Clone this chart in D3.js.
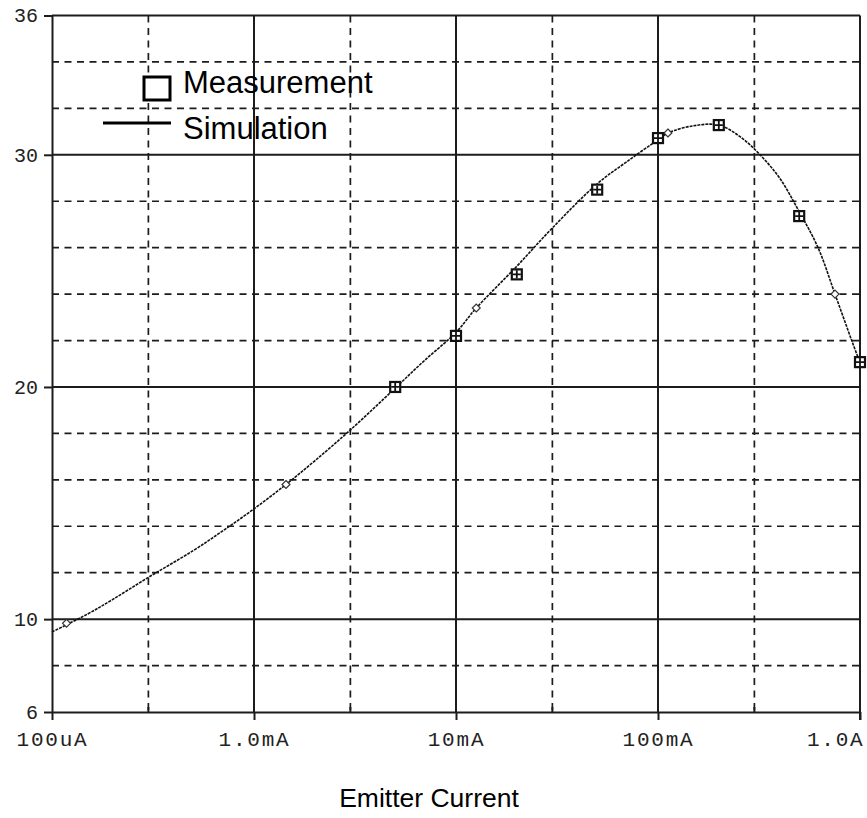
<!DOCTYPE html>
<html>
<head>
<meta charset="utf-8">
<script src="https://cdn.jsdelivr.net/npm/d3@7"></script>
<style>
  body { margin: 0; background: #fff; }
  svg { display: block; }
</style>
</head>
<body>
<div id="chart"></div>
<script>
// measured gain vs emitter current
var measCurrent = [5e-3, 1e-2, 2e-2, 5e-2, 1e-1, 2e-1, 5e-1, 1]
var measGain = [20.0, 22.2, 24.85, 28.5, 30.72, 31.28, 27.36, 21.07]

// simulated curve
var simCurrent = [1e-4, 1.5e-4, 2e-4, 3e-4, 5e-4, 7e-4, 1e-3, 1.44e-3, 2e-3, 3e-3, 5e-3,
  7e-3, 1e-2, 1.26e-2, 2e-2, 3e-2, 5e-2, 7e-2, 1e-1, 1.12e-1, 1.5e-1, 2e-1,
  2.55e-1, 3.2e-1, 4e-1, 5e-1, 6.2e-1, 7.52e-1, 9.1e-1, 1]
var simGain = [9.45, 10.22, 10.85, 11.8, 12.95, 13.8, 14.75, 15.8, 16.82, 18.15, 19.95,
  21.15, 22.35, 23.4, 25.2, 26.85, 28.75, 29.7, 30.65, 30.94, 31.25, 31.28,
  30.78, 30.0, 29.0, 27.55, 26.0, 24.0, 22.0, 21.05]

// trace markers on the simulation line
var markCurrent = [1.18e-4, 1.44e-3, 1.26e-2, 1.12e-1, 7.52e-1]
var markGain = [9.82, 15.8, 23.4, 30.94, 24.0]

var xTickValues = [1e-4, 1e-3, 1e-2, 1e-1, 1]
var xTickLabels = ["100uA", "1.0mA", "10mA", "100mA", "1.0A"]
var xMinorValues = [3e-4, 3e-3, 3e-2, 3e-1]
var yTickValues = [6, 10, 20, 30, 36]
var yMajorGrid = [10, 20, 30]
var yMinorGrid = [8, 12, 14, 16, 18, 22, 24, 26, 28, 32, 34]

var width = 867,
  height = 818,
  plotLeft = 52,
  plotRight = 860,
  plotTop = 15.5,
  plotBottom = 712

var ink = "#1c1c1c"
var monoFont = "'Liberation Mono', 'Courier New', monospace"
var sansFont = "'Liberation Sans', Arial, sans-serif"

var x = d3.scaleLog().domain([1e-4, 1]).range([plotLeft, plotRight])
var y = d3.scaleLinear().domain([6, 36]).range([plotBottom, plotTop])

var svg = d3
  .select("#chart")
  .append("svg")
  .attr("width", width)
  .attr("height", height)

svg.append("rect").attr("width", width).attr("height", height).attr("fill", "#fff")

/* ------- GRID -------*/
var grid = svg.append("g").attr("class", "grid")

grid.selectAll("line.ymin")
  .data(yMinorGrid)
  .enter()
  .append("line")
  .attr("class", "ymin")
  .attr("x1", plotLeft).attr("x2", plotRight)
  .attr("y1", function(d) { return y(d) })
  .attr("y2", function(d) { return y(d) })
  .attr("stroke", ink)
  .attr("stroke-width", 1.7)
  .attr("stroke-dasharray", "7,5.5")

grid.selectAll("line.xmin")
  .data(xMinorValues)
  .enter()
  .append("line")
  .attr("class", "xmin")
  .attr("y1", plotTop).attr("y2", plotBottom)
  .attr("x1", function(d) { return x(d) })
  .attr("x2", function(d) { return x(d) })
  .attr("stroke", ink)
  .attr("stroke-width", 1.7)
  .attr("stroke-dasharray", "7,5.5")

grid.selectAll("line.ymaj")
  .data(yMajorGrid)
  .enter()
  .append("line")
  .attr("class", "ymaj")
  .attr("x1", plotLeft).attr("x2", plotRight)
  .attr("y1", function(d) { return y(d) })
  .attr("y2", function(d) { return y(d) })
  .attr("stroke", ink)
  .attr("stroke-width", 2)

grid.selectAll("line.xmaj")
  .data(xTickValues.slice(1, -1))
  .enter()
  .append("line")
  .attr("class", "xmaj")
  .attr("y1", plotTop).attr("y2", plotBottom)
  .attr("x1", function(d) { return x(d) })
  .attr("x2", function(d) { return x(d) })
  .attr("stroke", ink)
  .attr("stroke-width", 2)

/* ------- AXES -------*/
var xAxis = svg.append("g")
  .attr("transform", "translate(0," + plotBottom + ")")
  .call(d3.axisBottom(x).tickValues(xTickValues).tickSize(8).tickSizeOuter(0)
    .tickFormat(function(d, i) { return xTickLabels[i] }))

xAxis.select(".domain").attr("stroke", ink).attr("stroke-width", 2)
xAxis.selectAll(".tick line").attr("stroke", ink).attr("stroke-width", 2)
xAxis.selectAll(".tick text")
  .attr("y", 34)
  .attr("dy", 0)
  .attr("fill", "#222")
  .style("font-family", monoFont)
  .style("font-size", "21px")
  .style("letter-spacing", "1.8px")
  .attr("text-anchor", function(d, i) { return i === xTickLabels.length - 1 ? "end" : "middle" })
  .attr("dx", function(d, i) { return i === xTickLabels.length - 1 ? 4 : 0 })

var yAxis = svg.append("g")
  .attr("transform", "translate(" + plotLeft + ",0)")
  .call(d3.axisLeft(y).tickValues(yTickValues).tickSize(8).tickSizeOuter(0).tickPadding(6))

yAxis.select(".domain").attr("stroke", ink).attr("stroke-width", 2)
yAxis.selectAll(".tick line").attr("stroke", ink).attr("stroke-width", 2)
yAxis.selectAll(".tick text")
  .attr("fill", "#222")
  .style("font-family", monoFont)
  .style("font-size", "20px")

// top and right frame
svg.append("line")
  .attr("x1", plotLeft).attr("x2", plotRight).attr("y1", plotTop).attr("y2", plotTop)
  .attr("stroke", ink).attr("stroke-width", 2)
svg.append("line")
  .attr("x1", plotRight).attr("x2", plotRight).attr("y1", plotTop).attr("y2", plotBottom + 8)
  .attr("stroke", ink).attr("stroke-width", 2)

// small inner ticks at the 3x positions
svg.selectAll("line.mtick")
  .data(xMinorValues)
  .enter()
  .append("line")
  .attr("class", "mtick")
  .attr("x1", function(d) { return x(d) })
  .attr("x2", function(d) { return x(d) })
  .attr("y1", plotBottom).attr("y2", plotBottom - 5)
  .attr("stroke", ink).attr("stroke-width", 2)

/* ------- SIMULATION -------*/
var simData = simCurrent.map(function(c, i) { return { c: c, g: simGain[i] } })

var line = d3.line()
  .x(function(d) { return x(d.c) })
  .y(function(d) { return y(d.g) })
  .curve(d3.curveCatmullRom.alpha(0.5))

svg.append("path")
  .datum(simData)
  .attr("d", line)
  .attr("fill", "none")
  .attr("stroke", "#111")
  .attr("stroke-width", 1.6)
  .attr("stroke-dasharray", "3,1")

svg.selectAll("path.mark")
  .data(markCurrent)
  .enter()
  .append("path")
  .attr("class", "mark")
  .attr("d", d3.symbol().type(d3.symbolDiamond2).size(40))
  .attr("transform", function(d, i) { return "translate(" + x(d) + "," + y(markGain[i]) + ")" })
  .attr("fill", "#fff")
  .attr("stroke", "#333")
  .attr("stroke-width", 1.2)

/* ------- MEASUREMENT -------*/
var meas = svg.selectAll("g.meas")
  .data(measCurrent)
  .enter()
  .append("g")
  .attr("class", "meas")
  .attr("transform", function(d, i) { return "translate(" + x(d) + "," + y(measGain[i]) + ")" })

meas.append("rect")
  .attr("x", -5).attr("y", -5).attr("width", 10).attr("height", 10)
  .attr("fill", "#fff").attr("stroke", "#111").attr("stroke-width", 2.2)
meas.append("path")
  .attr("d", "M0,-4V4M-4,0H4")
  .attr("stroke", "#111").attr("stroke-width", 1.8)

/* ------- LEGEND -------*/
var legend = svg.append("g").attr("class", "legend")

legend.append("rect")
  .attr("x", 144).attr("y", 77).attr("width", 26).attr("height", 23)
  .attr("fill", "#fff").attr("stroke", "#000").attr("stroke-width", 3)
legend.append("text")
  .attr("x", 183).attr("y", 93)
  .style("font-family", sansFont).style("font-size", "31px")
  .attr("fill", "#000")
  .text("Measurement")

legend.append("line")
  .attr("x1", 103).attr("x2", 171).attr("y1", 123).attr("y2", 123)
  .attr("stroke", "#000").attr("stroke-width", 3)
legend.append("text")
  .attr("x", 183).attr("y", 139)
  .style("font-family", sansFont).style("font-size", "31px")
  .attr("fill", "#000")
  .text("Simulation")

/* ------- AXIS TITLE -------*/
svg.append("text")
  .attr("x", 429).attr("y", 807)
  .attr("text-anchor", "middle")
  .style("font-family", sansFont).style("font-size", "26.5px")
  .attr("fill", "#000")
  .text("Emitter Current")
</script>
</body>
</html>
